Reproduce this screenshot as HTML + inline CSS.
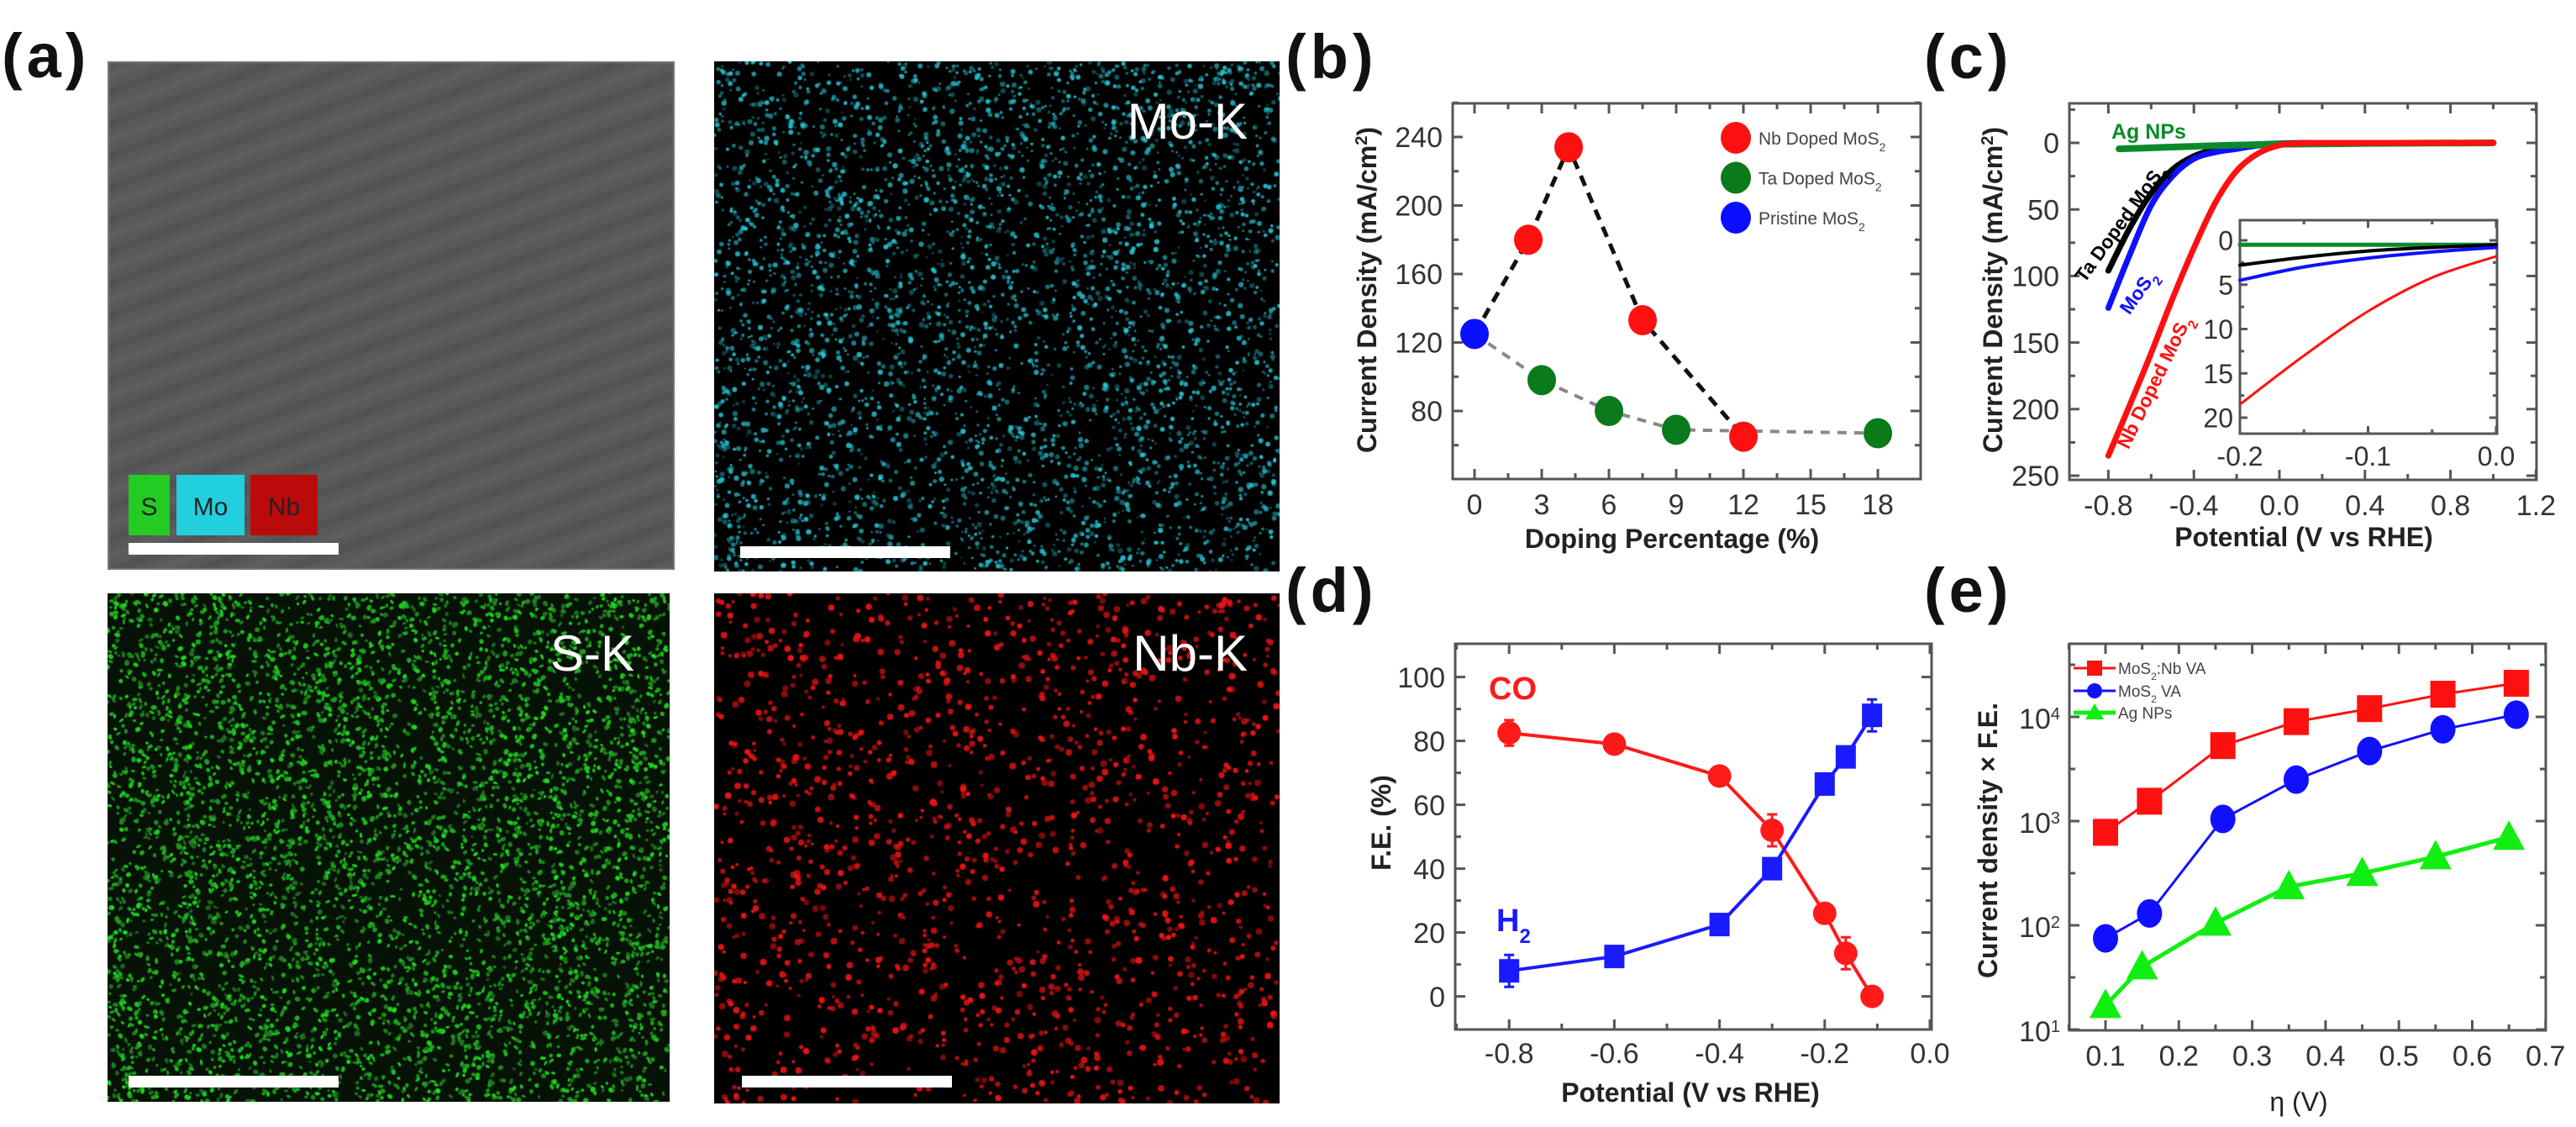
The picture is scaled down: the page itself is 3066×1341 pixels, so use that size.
<!DOCTYPE html>
<html><head><meta charset="utf-8"><title>MoS2 figure</title>
<style>
body{margin:0;width:3066px;height:1341px;background:#fff;overflow:hidden;position:relative;font-family:"Liberation Sans",Arial,sans-serif}
canvas{position:absolute;display:block}
svg{position:absolute;left:0;top:0}
</style></head>
<body>
<canvas id="semImg" width="675" height="605" style="left:128px;top:73px"></canvas>
<canvas id="moMap" width="673" height="607" style="left:850px;top:73px"></canvas>
<canvas id="sMap" width="669" height="605" style="left:128px;top:706px"></canvas>
<canvas id="nbMap" width="673" height="607" style="left:850px;top:706px"></canvas>
<svg id="fig" width="3066" height="1341" viewBox="0 0 3066 1341"></svg>
<script>
// ---------- Panel (b) data ----------
const bPristineX=[0];
const bPristineY=[125];
const bNbX=[2.4,4.2,7.5,12];
const bNbY=[180,234,133,65];
const bTaX=[3,6,9,18];
const bTaY=[98,80,69,67];
const bXTicks=[0,3,6,9,12,15,18];
const bYTicks=[80,120,160,200,240];
// ---------- Panel (c) data ----------
const cV=[-0.8,-0.7,-0.6,-0.5,-0.4,-0.3,-0.2,-0.1,0,0.1,0.2,0.4,0.6,0.8,1.0];
const cNb=[235,197,158,117,79,45,21,8,1.8,0.3,0,0,0,0,0];
const cMo=[124,84,47,25,12,7,4.5,2,0.8,0.2,0,0,0,0,0];
const cTa=[96,64,38,20,10,5,2.8,1.2,0.5,0.1,0,0,0,0,0];
const cAgV=[-0.75,0,1.0];
const cAg=[4.5,1,0];
const cXTicks=[-0.8,-0.4,0.0,0.4,0.8,1.2];
const cYTicks=[0,50,100,150,200,250];
const insV=[-0.2,-0.15,-0.1,-0.05,0];
const insNb=[18.5,13,8,4.2,1.8];
const insMo=[4.5,3,2,1.3,0.8];
const insTa=[2.8,1.9,1.2,0.8,0.5];
const insAg=[0.5,0.5,0.5,0.5,0.5];
const insXTicks=[-0.2,-0.1,0.0];
const insYTicks=[0,5,10,15,20];
// ---------- Panel (d) data ----------
const dV=[-0.8,-0.6,-0.4,-0.3,-0.2,-0.16,-0.11];
const dCO=[82.5,79,69,52,26,13.5,0];
const dCOerr=[4,1.5,2,5,3,5,1];
const dH2=[8,12.5,22.5,40,66.5,75,88];
const dH2err=[5,2,2,2,2,3,5];
const dXTicks=[-0.8,-0.6,-0.4,-0.2,0.0];
const dYTicks=[0,20,40,60,80,100];
// ---------- Panel (e) data ----------
const eNbX=[0.1,0.16,0.26,0.36,0.46,0.56,0.66];
const eNbY=[780,1550,5300,9000,12000,16500,21000];
const eMoX=[0.1,0.16,0.26,0.36,0.46,0.56,0.66];
const eMoY=[75,130,1050,2500,4700,7600,10500];
const eAgX=[0.1,0.15,0.25,0.35,0.45,0.55,0.65];
const eAgY=[17,40,105,235,315,455,700];
const eXTicks=[0.1,0.2,0.3,0.4,0.5,0.6,0.7];
const eYDecades=[1,2,3,4];

const NS='http://www.w3.org/2000/svg';
const svg=document.getElementById('fig');
function mk(tag,attrs,parent){const e=document.createElementNS(NS,tag);for(const k in attrs)e.setAttribute(k,attrs[k]);(parent||svg).appendChild(e);return e;}
function txt(str,attrs,parent){const t=mk('text',attrs,parent);t.textContent=str;return t;}
function smooth(pts){let d='M'+pts[0][0]+','+pts[0][1];for(let i=0;i<pts.length-1;i++){const p0=pts[i-1]||pts[i],p1=pts[i],p2=pts[i+1],p3=pts[i+2]||p2;const c1=[p1[0]+(p2[0]-p0[0])/6,p1[1]+(p2[1]-p0[1])/6];const c2=[p2[0]-(p3[0]-p1[0])/6,p2[1]-(p3[1]-p1[1])/6];d+=' C'+c1+' '+c2+' '+p2;}return d;}
function poly(pts){return pts.map((p,i)=>(i?'L':'M')+p[0]+','+p[1]).join(' ');}

function axes(p){
  const g=mk('g',{});
  
  
  const fr=mk('rect',{x:p.l,y:p.t,width:p.r-p.l,height:p.b-p.t,fill:'none',stroke:'#555','stroke-width':3},g);
  
  
  const tl=p.tl||12, ml=p.ml||7;
  (p.xMin||[]).forEach(v=>{const x=p.sx(v);if(x<p.l-1||x>p.r+1)return;
    mk('line',{x1:x,y1:p.b,x2:x,y2:p.b-ml,stroke:'#555','stroke-width':3},g);
    mk('line',{x1:x,y1:p.t,x2:x,y2:p.t+ml,stroke:'#555','stroke-width':3},g);});
  (p.yMin||[]).forEach(v=>{const y=p.sy(v);if(y<p.t-1||y>p.b+1)return;
    mk('line',{x1:p.l,y1:y,x2:p.l+ml,y2:y,stroke:'#555','stroke-width':3},g);
    mk('line',{x1:p.r,y1:y,x2:p.r-ml,y2:y,stroke:'#555','stroke-width':3},g);});
  p.xMaj.forEach(v=>{const x=p.sx(v);
    if(x>=p.l-1&&x<=p.r+1){mk('line',{x1:x,y1:p.b,x2:x,y2:p.b-tl,stroke:'#555','stroke-width':3},g);
    mk('line',{x1:x,y1:p.t,x2:x,y2:p.t+tl,stroke:'#555','stroke-width':3},g);}
    const t=txt(p.xFmt(v),{x:x,y:p.b+p.xdy,'text-anchor':'middle','font-size':p.fs,fill:'#333'},g);
    
    });
  p.yMaj.forEach(v=>{const y=p.sy(v);
    mk('line',{x1:p.l,y1:y,x2:p.l+tl,y2:y,stroke:'#555','stroke-width':3},g);
    mk('line',{x1:p.r,y1:y,x2:p.r-tl,y2:y,stroke:'#555','stroke-width':3},g);
    if(p.yLabel){p.yLabel(v,y,g);}else{
    const t=txt(p.yFmt(v),{x:p.l-p.ydx,y:y+p.fs*0.36,'text-anchor':'end','font-size':p.fs,fill:'#333'},g);
    
    }});
  return g;
}
function panelLabel(s,x,y,name){const t=txt(s,{x:x,y:y,'font-size':74,'font-weight':'bold',fill:'#111','letter-spacing':5});
  
  }
function yTitle(parts,cx,cy,name){const t=mk('text',{x:cx,y:cy,'text-anchor':'middle','font-size':32,'font-weight':'bold',fill:'#222',transform:'rotate(-90 '+cx+' '+cy+')'});
  
  
  parts.forEach(pt=>{const s=mk('tspan',pt.sup?{'baseline-shift':'super','font-size':20}:{},t);s.textContent=pt.t;});}
function xTitle(s,cx,y,name){const t=txt(s,{x:cx,y:y,'text-anchor':'middle','font-size':32,'font-weight':'bold',fill:'#222'});
  
  }

panelLabel('(a)',2,92,'panel-a-label');
panelLabel('(b)',1530,93,'panel-b-label');
panelLabel('(c)',2290,93,'panel-c-label');
panelLabel('(d)',1530,728,'panel-d-label');
panelLabel('(e)',2290,728,'panel-e-label');

// ---------- Panel (b) ----------
const bx=v=>1755+v*26.67, by=v=>163+(240-v)*2.0375;
axes({name:'panel-b',l:1729,r:2286,t:123,b:570,sx:bx,sy:by,xMaj:bXTicks,xMin:[1.5,4.5,7.5,10.5,13.5,16.5],yMaj:bYTicks,yMin:[60,100,140,180,220,260],
  xFmt:v=>String(v),yFmt:v=>String(v),fs:34,xdy:42,ydx:12});
yTitle([{t:'Current Density (mA/cm'},{t:'2',sup:true},{t:')'}],1638,345,'panel-b-y-title');
xTitle('Doping Percentage (%)',1990,652,'panel-b-x-title');
{
  const blk=[[bx(bPristineX[0]),by(bPristineY[0])]].concat(bNbX.map((v,i)=>[bx(v),by(bNbY[i])]));
  const l1=mk('path',{d:poly(blk),fill:'none',stroke:'#111','stroke-width':5,'stroke-dasharray':'13 9'});
  
  
  const gr=[[bx(bPristineX[0]),by(bPristineY[0])]].concat(bTaX.map((v,i)=>[bx(v),by(bTaY[i])]));
  const l2=mk('path',{d:poly(gr),fill:'none',stroke:'#888','stroke-width':4,'stroke-dasharray':'11 9'});
  
  
  bTaX.forEach((v,i)=>{const c=mk('ellipse',{cx:bx(v),cy:by(bTaY[i]),rx:17,ry:18,fill:'#0a7a1a'});
    
    });
  bNbX.forEach((v,i)=>{const c=mk('ellipse',{cx:bx(v),cy:by(bNbY[i]),rx:17,ry:18,fill:'#ff1010'});
    
    });
  bPristineX.forEach((v,i)=>{const c=mk('ellipse',{cx:bx(v),cy:by(bPristineY[i]),rx:17,ry:18,fill:'#0a10ff'});
    
    });
  const leg=[['#ff1010','Nb Doped MoS'],['#0a7a1a','Ta Doped MoS'],['#0a10ff','Pristine MoS']];
  leg.forEach((L,i)=>{const y=164+i*47.5;
    const c=mk('ellipse',{cx:2066,cy:y,rx:18,ry:19,fill:L[0]});
    
    
    const t=mk('text',{x:2093,y:y+8,'font-size':21,fill:'#444'});
    
    
    const s1=mk('tspan',{},t);s1.textContent=L[1];
    const s2=mk('tspan',{'baseline-shift':'sub','font-size':14},t);s2.textContent='2';});
}

// ---------- Panel (c) ----------
const cx=v=>2713+v*254.5, cy=v=>170+v*1.584;
axes({name:'panel-c',l:2463,r:3019,t:123,b:571,sx:cx,sy:cy,xMaj:cXTicks,xMin:[-0.6,-0.2,0.2,0.6,1.0],yMaj:cYTicks,yMin:[-25,25,75,125,175,225],
  xFmt:v=>v.toFixed(1),yFmt:v=>String(v),fs:34,xdy:42,ydx:12});
yTitle([{t:'Current Density (mA/cm'},{t:'2',sup:true},{t:')'}],2383,345,'panel-c-y-title');
xTitle('Potential (V vs RHE)',2742,650,'panel-c-x-title');
function curve(xs,ys,fx,fy,color,w,name){const p=mk('path',{d:smooth(xs.map((v,i)=>[fx(v),fy(ys[i])])),fill:'none',stroke:color,'stroke-width':w,'stroke-linecap':'round'});
  
  }
curve(cV,cTa,cx,cy,'#000',7,'ta-doped-curve');
curve(cV,cMo,cx,cy,'#1010ff',7,'mos2-curve');
curve(cAgV,cAg,cx,cy,'#0a8a2a',8,'ag-nps-curve');
curve(cV,cNb,cx,cy,'#ff1010',7,'nb-doped-curve');
{
  const t1=txt('Ag NPs',{x:2513,y:165,'font-size':25,'font-weight':'bold',fill:'#0a8a2a'});
  
  
  const lab=[['Ta Doped MoS',2530,270,-54,'#000','ta-doped-label'],['MoS',2551,352,-55,'#1010ff','mos2-label'],['Nb Doped MoS',2571,458,-64,'#ff1010','nb-doped-label']];
  lab.forEach(L=>{const t=mk('text',{x:L[1],y:L[2],'text-anchor':'middle','font-size':23,'font-weight':'bold',fill:L[4],transform:'rotate('+L[3]+' '+L[1]+' '+L[2]+')'});
    
    
    const a=mk('tspan',{},t);a.textContent=L[0];
    const b=mk('tspan',{'baseline-shift':'sub','font-size':16},t);b.textContent='2';});
}
const ix=v=>2971+v*1525, iy=v=>286+v*10.55;
mk('rect',{x:2666,y:262,width:306,height:254,fill:'#fff'});
axes({name:'panel-c-inset',l:2666,r:2972,t:262,b:516,sx:ix,sy:iy,xMaj:insXTicks,xMin:[-0.15,-0.05],yMaj:insYTicks,yMin:[2.5,7.5,12.5,17.5],
  xFmt:v=>v.toFixed(1),yFmt:v=>String(v),fs:32,xdy:38,ydx:8,tl:9,ml:5});
curve(insV,insAg,ix,iy,'#0a8a2a',5,'inset-ag-curve');
curve(insV,insTa,ix,iy,'#000',4,'inset-ta-curve');
curve(insV,insMo,ix,iy,'#1010ff',4,'inset-mos2-curve');
curve(insV,insNb,ix,iy,'#ff1010',3,'inset-nb-curve');

// ---------- Panel (d) ----------
const dx=v=>2297+v*626, dy=v=>1185.6-v*3.8;
axes({name:'panel-d',l:1732,r:2299,t:766,b:1225,sx:dx,sy:dy,xMaj:dXTicks,xMin:[-0.9,-0.7,-0.5,-0.3,-0.1],yMaj:dYTicks,yMin:[10,30,50,70,90],
  xFmt:v=>v.toFixed(1),yFmt:v=>String(v),fs:34,xdy:40,ydx:12});
yTitle([{t:'F.E. (%)'}],1655,979,'panel-d-y-title');
xTitle('Potential (V vs RHE)',2012,1311,'panel-d-x-title');
{
  const co=mk('path',{d:poly(dV.map((v,i)=>[dx(v),dy(dCO[i])])),fill:'none',stroke:'#ff1a1a','stroke-width':4});
  
  
  const h2=mk('path',{d:poly(dV.map((v,i)=>[dx(v),dy(dH2[i])])),fill:'none',stroke:'#1a1aff','stroke-width':4});
  
  
  dV.forEach((v,i)=>{const x=dx(v);
    const e1=mk('path',{d:'M'+(x-6)+','+dy(dCO[i]+dCOerr[i])+' h12 M'+x+','+dy(dCO[i]+dCOerr[i])+' V'+dy(dCO[i]-dCOerr[i])+' M'+(x-6)+','+dy(dCO[i]-dCOerr[i])+' h12',stroke:'#ff1a1a','stroke-width':3,fill:'none'});
    
    
    const c=mk('circle',{cx:x,cy:dy(dCO[i]),r:14,fill:'#ff1a1a'});
    
    
    const e2=mk('path',{d:'M'+(x-6)+','+dy(dH2[i]+dH2err[i])+' h12 M'+x+','+dy(dH2[i]+dH2err[i])+' V'+dy(dH2[i]-dH2err[i])+' M'+(x-6)+','+dy(dH2[i]-dH2err[i])+' h12',stroke:'#1a1aff','stroke-width':3,fill:'none'});
    
    
    const s=mk('rect',{x:x-12,y:dy(dH2[i])-14,width:24,height:28,fill:'#1a1aff'});
    
    });
  const t1=txt('CO',{x:1772,y:832,'font-size':38,'font-weight':'bold',fill:'#ff1a1a'});
  
  
  const t2=mk('text',{x:1781,y:1108,'font-size':38,'font-weight':'bold',fill:'#1a1aff'});
  
  
  const a=mk('tspan',{},t2);a.textContent='H';
  const b=mk('tspan',{'baseline-shift':'sub','font-size':24},t2);b.textContent='2';
}

// ---------- Panel (e) ----------
const ex=v=>2506+(v-0.1)*873, ey=v=>1225-(Math.log10(v)-1)*124;
axes({name:'panel-e',l:2463,r:3030,t:766,b:1226,sx:ex,sy:ey,xMaj:eXTicks,xMin:[0.05,0.15,0.25,0.35,0.45,0.55,0.65],
  yMaj:eYDecades.map(d=>Math.pow(10,d)),yMin:[1.5,2.5,3.5,4.5].map(d=>Math.pow(10,d)),
  xFmt:v=>v.toFixed(1),fs:34,xdy:42,ydx:12,
  yLabel:(v,y,g)=>{const t=mk('text',{x:2452,y:y+14,'text-anchor':'end','font-size':34,fill:'#333'},g);
    
    
    const a=mk('tspan',{},t);a.textContent='10';
    const b=mk('tspan',{'baseline-shift':'super','font-size':20},t);b.textContent=String(Math.round(Math.log10(v)));}});
yTitle([{t:'Current density × F.E.'}],2377,1000,'panel-e-y-title');
{
  const t=mk('text',{x:2736,y:1322,'text-anchor':'middle','font-size':32,fill:'#222'});
  
  
  t.textContent='η (V)';
}
function series(xs,ys,color,w,shape,name){
  const l=mk('path',{d:poly(xs.map((v,i)=>[ex(v),ey(ys[i])])),fill:'none',stroke:color,'stroke-width':w});
  
  
  xs.forEach((v,i)=>{const x=ex(v),y=ey(ys[i]);let m;
    if(shape==='sq')m=mk('rect',{x:x-15,y:y-16,width:30,height:32,fill:color});
    else if(shape==='c')m=mk('ellipse',{cx:x,cy:y,rx:15,ry:17,fill:color});
    else m=mk('path',{d:'M'+x+','+(y-20)+' L'+(x+19)+','+(y+15)+' L'+(x-19)+','+(y+15)+' Z',fill:color});
    
    });
}
series(eAgX,eAgY,'#11ee11',5,'t','ag-nps');
series(eMoX,eMoY,'#1010ff',3,'c','mos2-va');
series(eNbX,eNbY,'#ff1010',3,'sq','mos2-nb-va');
{
  const leg=[['#ff1010','sq','MoS','Nb VA',795],['#1010ff','c','MoS',' VA',822],['#11ee11','t','Ag NPs','',848]];
  leg.forEach(L=>{const y=L[4];
    const ln=mk('line',{x1:2468,y1:y,x2:2518,y2:y,stroke:L[0],'stroke-width':L[1]==='t'?5:3});
    
    
    let m;
    if(L[1]==='sq')m=mk('rect',{x:2484,y:y-9,width:18,height:18,fill:L[0]});
    else if(L[1]==='c')m=mk('circle',{cx:2493,cy:y,r:9,fill:L[0]});
    else m=mk('path',{d:'M2493,'+(y-11)+' L2504,'+(y+8)+' L2482,'+(y+8)+' Z',fill:L[0]});
    
    
    const t=mk('text',{x:2521,y:y+7,'font-size':19,fill:'#444'});
    
    
    const a=mk('tspan',{},t);a.textContent=L[2];
    if(L[1]!=='t'){const b=mk('tspan',{'baseline-shift':'sub','font-size':12},t);b.textContent='2';
      const c=mk('tspan',{},t);c.textContent=(L[1]==='sq'?':':'')+L[3];}});
}

// ---------- Panel (a) textures ----------
let seed=12345;function rnd(){seed=(seed*1103515245+12345)&0x7fffffff;return seed/0x7fffffff;}
(function(){
  const c=document.getElementById('semImg').getContext('2d');
  c.fillStyle='#595959';c.fillRect(0,0,675,605);
  for(let k=-40;k<80;k++){c.strokeStyle=k%2?'rgba(105,105,105,0.3)':'rgba(70,70,70,0.3)';c.lineWidth=9;
    c.beginPath();c.moveTo(0,k*19);c.lineTo(675,k*19-250);c.stroke();}
  c.strokeStyle='#777';c.lineWidth=2;c.strokeRect(1,1,673,603);
  const m=document.getElementById('moMap').getContext('2d');
  m.fillStyle='#000';m.fillRect(0,0,673,607);
  for(let i=0;i<4200;i++){const a=0.3+rnd()*0.6;m.fillStyle='rgba(40,200,215,'+a+')';m.beginPath();m.arc(rnd()*673,rnd()*607,1.2+rnd()*2,0,6.283);m.fill();}
  const s=document.getElementById('sMap').getContext('2d');
  s.fillStyle='#071207';s.fillRect(0,0,669,605);
  for(let i=0;i<20000;i++){const g=100+Math.floor(rnd()*120);s.fillStyle='rgba(30,'+g+',30,0.7)';s.beginPath();s.ellipse(rnd()*669,rnd()*605,1.2+rnd()*2.3,1.2+rnd()*1.6,rnd()*3,0,6.283);s.fill();}
  const n=document.getElementById('nbMap').getContext('2d');
  n.fillStyle='#000';n.fillRect(0,0,673,607);
  for(let i=0;i<1500;i++){const a=0.5+rnd()*0.5;n.fillStyle='rgba(235,20,20,'+a+')';n.beginPath();n.arc(rnd()*673,rnd()*607,2+rnd()*2,0,6.283);n.fill();}
})();
{
  const boxes=[[153,202,'#22cc22','S','legend-s-box'],[210,291,'#22d0dd','Mo','legend-mo-box'],[298,378,'#bb0a0a','Nb','legend-nb-box']];
  boxes.forEach(B=>{const r=mk('rect',{x:B[0],y:565,width:B[1]-B[0],height:72,fill:B[2]});
    
    
    const t=txt(B[3],{x:(B[0]+B[1])/2,y:613,'text-anchor':'middle','font-size':30,fill:'#222'});
    
    });
  const bars=[[153,646],[881,650],[153,1280],[883,1280]];
  bars.forEach(b=>{const r=mk('rect',{x:b[0],y:b[1],width:250,height:14,fill:'#fff'});
    
    });
  const maps=[['Mo-K',1485,165,'mo-k-label'],['S-K',755,798,'s-k-label'],['Nb-K',1485,798,'nb-k-label']];
  maps.forEach(M=>{const t=txt(M[0],{x:M[1],y:M[2],'text-anchor':'end','font-size':60,fill:'#fff'});
    
    });
}
</script>
</body></html>
